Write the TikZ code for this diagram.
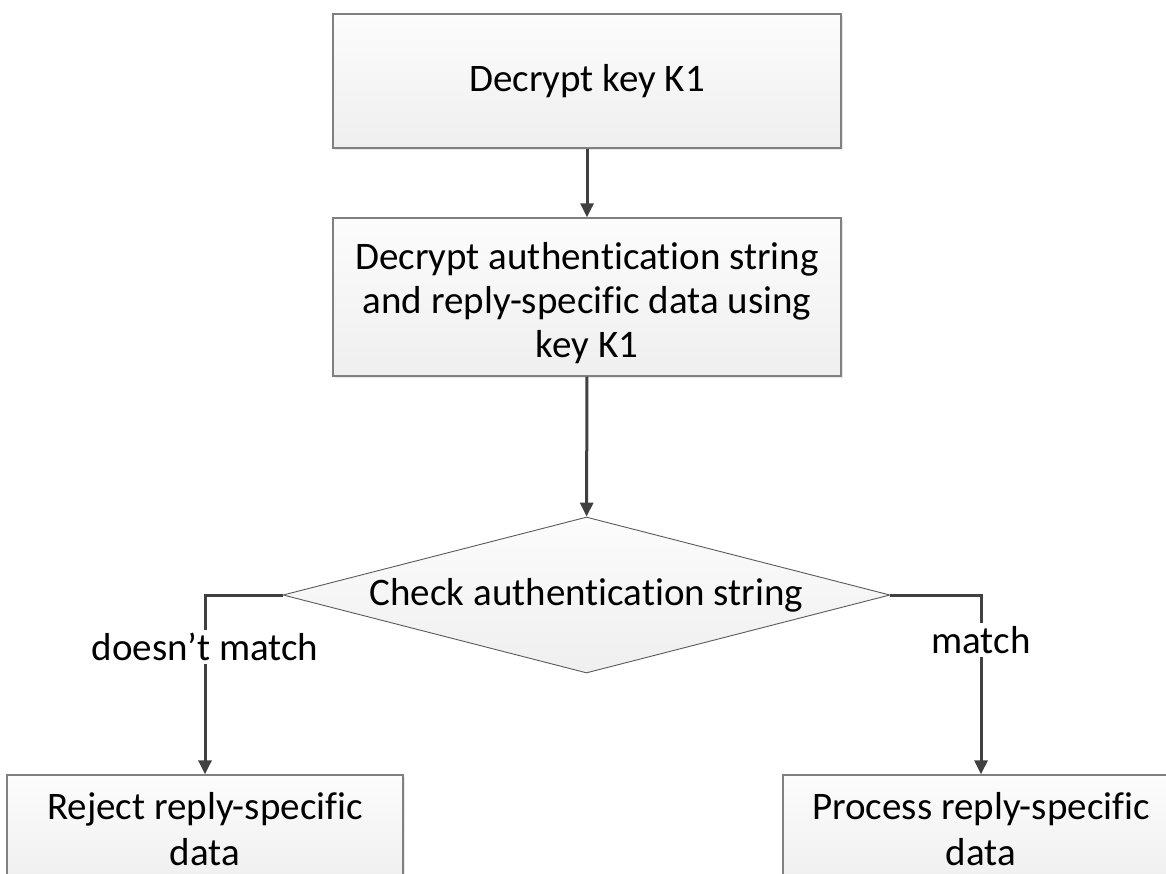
\documentclass[tikz,border=0pt]{standalone}
\usepackage{fontspec}
\setmainfont{Carlito}[Ligatures={NoCommon}]
\usetikzlibrary{arrows.meta,shapes.geometric,shadows}
\definecolor{edgegray}{HTML}{808080}
\definecolor{linegray}{HTML}{404040}
\definecolor{fillhi}{HTML}{FCFCFC}
\definecolor{filllo}{HTML}{EFEFEF}
\tikzset{
  bigtext/.style={font=\fontsize{39}{44}\selectfont},
  procbox/.style={draw=edgegray, line width=1.3pt, top color=fillhi, bottom color=filllo,
    drop shadow={shadow xshift=2pt, shadow yshift=-2pt, opacity=0.18},
    minimum width=508pt, minimum height=134pt, align=center, inner sep=0pt, bigtext},
  endbox/.style={procbox, minimum width=396pt, minimum height=110pt,
    font=\fontsize{39}{46}\selectfont},
  boxtext/.style={align=center, inner sep=0pt, bigtext},
  decision/.style={diamond, draw=edgegray!70!black, line width=0.9pt, top color=fillhi, bottom color=filllo,
    minimum width=607pt, minimum height=156pt, inner sep=0pt, aspect=3.89, bigtext},
  flow/.style={draw=linegray, line width=3pt, -{Triangle[length=14pt,width=13pt]}},
  branch/.style={fill=white, inner sep=3pt, bigtext}
}
\begin{document}
\begin{tikzpicture}[x=1pt,y=-1pt]
  \useasboundingbox (0,0) rectangle (1166,873);
  \clip (0,0) rectangle (1166,873);

  \node[procbox] (k1) at (587,81) {Decrypt key K1};
  \node[procbox, minimum height=158pt] (auth) at (587,297) {};
  \node[boxtext] (authtext) at ([yshift=-6pt]auth.center)
    {Decrypt authentication string\\and reply-specific data using\\key K1};
  \node[decision] (chk) at (586.5,595) {\raisebox{-2pt}{Check authentication string}};
  \node[endbox] (rej) at (205,830) {};
  \node[boxtext, font=\fontsize{39}{46}\selectfont] (rejtext) at (205,829) {Reject reply-specific\\data};
  \node[endbox] (proc) at (981,830) {};
  \node[boxtext, font=\fontsize{39}{46}\selectfont] (proctext) at (981,829) {Process reply-specific\\data};

  \draw[flow] (k1) -- (auth);
  \draw[flow] (auth) -- (chk);
  \draw[flow] (chk.west) -| node[branch, pos=0.644] {doesn’t match} (rej.north);
  \draw[flow] (chk.east) -| node[branch, pos=0.625] {match} (proc.north);
\end{tikzpicture}
\end{document}
